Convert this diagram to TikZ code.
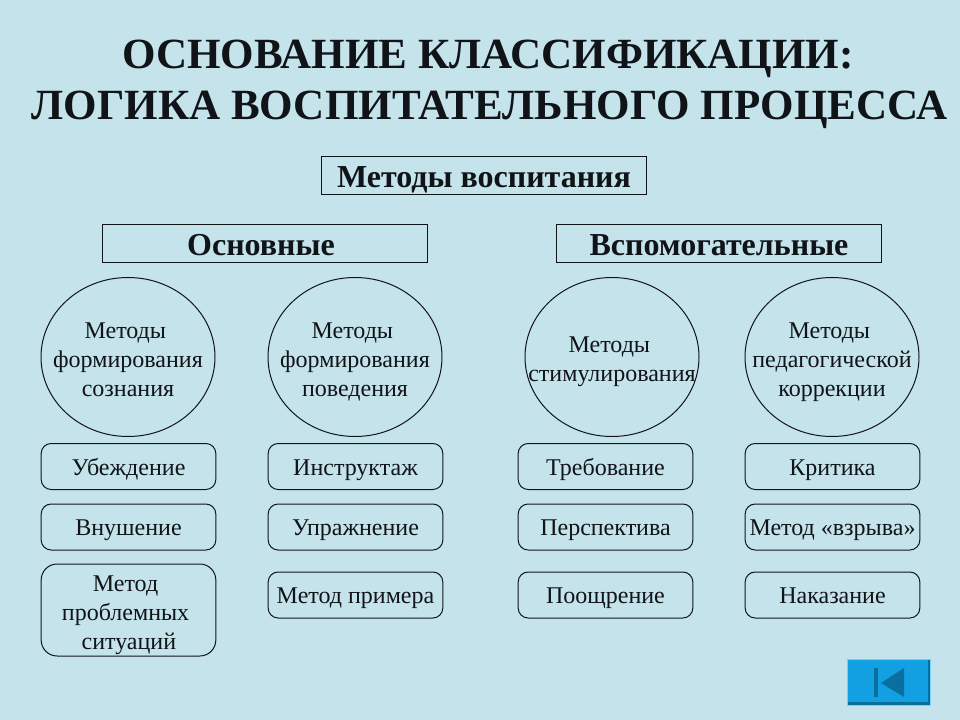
\documentclass[tikz,border=0pt]{standalone}
\usepackage{fontspec}
\setmainfont{Liberation Serif}
\usetikzlibrary{shapes.geometric}
\definecolor{bgblue}{HTML}{C5E3EA}
\definecolor{btnblue}{HTML}{12A0E2}
\definecolor{btndark}{HTML}{0A6E9E}
\definecolor{btnlight}{HTML}{6FD4F6}
\definecolor{ink}{HTML}{101418}
\tikzset{
  every picture/.style={line width=0.75pt},
  ttl/.style={font=\bfseries\fontsize{32.3}{37.5}\selectfont,text=ink,inner sep=0pt},
  hd/.style={rectangle,draw=ink,minimum width=244pt,minimum height=29pt,inner sep=0pt,text height=18.7pt,text depth=0pt,text=ink,font=\bfseries\fontsize{24}{28}\selectfont},
  lbl/.style={align=center,inner sep=0pt,text=ink,font=\fontsize{18}{21.75}\selectfont},
  oval/.style={ellipse,draw=ink,minimum width=130.5pt,minimum height=119.25pt,inner sep=0pt},
  rbox/.style={rectangle,rounded corners=7.5pt,draw=ink,minimum width=131pt,minimum height=34.5pt,inner sep=0pt},
  rone/.style={rbox,text height=12.8pt,text depth=0pt,text=ink,font=\fontsize{18}{21.75}\selectfont},
}
\begin{document}
\begin{tikzpicture}[x=0.75pt,y=-0.75pt]
\path[fill=bgblue] (0,0) rectangle (960,720);
\useasboundingbox (0,0) rectangle (960,720);
% title
\node[ttl] (t1) at (488,59){ОСНОВАНИЕ КЛАССИФИКАЦИИ:};
\node[ttl] (t2) at (489.5,110){ЛОГИКА ВОСПИТАТЕЛЬНОГО ПРОЦЕССА};
% headers
\node[hd] (top) at (484,175.5){Методы воспитания};
\node[hd] (main) at (265,243.5){\hspace*{-6pt}Основные};
\node[hd] (aux) at (719,243.5){Вспомогательные};
% circles
\node[oval,label={[lbl,yshift=-2.25pt]center:{\hspace*{-4pt}Методы\\формирования\\сознания}}] (c1) at (128,357){};
\node[oval,label={[lbl,yshift=-3.75pt]center:{\hspace*{-4pt}Методы\\формирования\\поведения}}] (c2) at (355,357){};
\node[oval,label={[lbl,yshift=-3.75pt]center:{\hspace*{-4pt}Методы\\стимулирования}}] (c3) at (612,357){};
\node[oval,label={[lbl,yshift=-3.75pt]center:{\hspace*{-4pt}Методы\\педагогической\\коррекции}}] (c4) at (832,357){};
% column 1
\node[rone] (a1) at (128.5,466.5){Убеждение};
\node[rone] (a2) at (128.5,527){Внушение};
\node[rbox,minimum height=69pt,rounded corners=12pt,label={[lbl,xshift=-2.2pt,yshift=-3.75pt]center:{Метод\\проблемных\\\hspace*{5pt}ситуаций}}] (a3) at (128.5,610){};
% column 2
\node[rone] (b1) at (355.5,466.5){Инструктаж};
\node[rone] (b2) at (355.5,527){Упражнение};
\node[rone] (b3) at (355.5,595){Метод примера};
% column 3
\node[rone] (d1) at (605.5,466.5){Требование};
\node[rone] (d2) at (605.5,527){Перспектива};
\node[rone] (d3) at (605.5,595){Поощрение};
% column 4
\node[rone] (e1) at (832.5,466.5){Критика};
\node[rone] (e2) at (832.5,527){Метод «взрыва»};
\node[rone] (e3) at (832.5,595){Наказание};
% back button
\fill[btnlight] (847,659) rectangle (931,706);
\fill[btndark] (848,660) rectangle (930,705);
\fill[btnblue] (848,660) rectangle (928,702);
\fill[btndark] (874,668) rectangle (878,697);
\fill[btndark] (904,668) -- (904,697) -- (881,683) -- cycle;
\end{tikzpicture}
\end{document}
